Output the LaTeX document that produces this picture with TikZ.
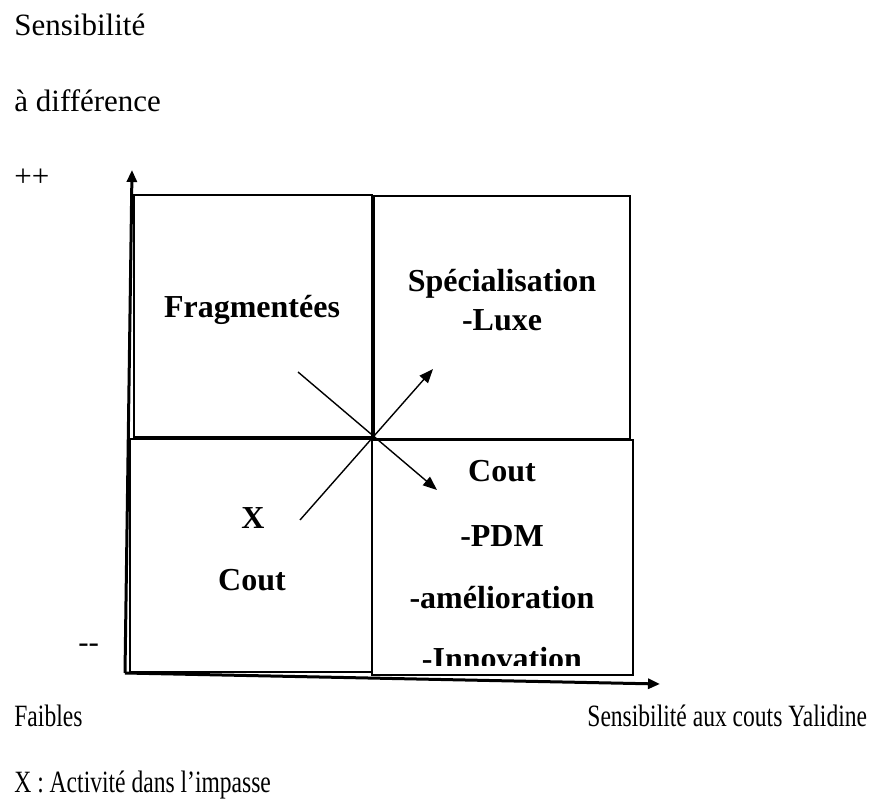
\documentclass[tikz,border=0pt]{standalone}
\usepackage{fontspec}
\setmainfont{Liberation Serif}
\newfontfamily\narrowserif[FakeStretch=0.76]{Liberation Serif}
\usetikzlibrary{arrows.meta, positioning}

\begin{document}
\begin{tikzpicture}[
        % 1 unit = 1 pixel of the reference (y goes down)
        x=0.5pt, y=-0.5pt,
        quad/.style={rectangle, draw, line width=1pt, inner sep=0pt},
        axis/.style={line width=1.5pt, -{Triangle[length=6pt, width=5pt]}},
        arrow/.style={line width=0.7pt, -{Triangle[length=7pt, width=5.5pt]}},
        toplabel/.style={font=\fontsize{15.5}{18}\selectfont, inner sep=0pt, anchor=base west},
        botlabel/.style={font=\narrowserif\fontsize{15.5}{18}\selectfont, inner sep=0pt, anchor=base west},
        cell/.style={font=\bfseries\fontsize{16}{19}\selectfont, inner sep=0pt, anchor=base}
    ]
    \useasboundingbox (0,0) rectangle (882,807);

    % Quadrants
    \node (frag) [quad, minimum width=119pt, minimum height=121pt] at (253,316) {};
    \node (spec) [quad, minimum width=128pt, minimum height=121.5pt] at (502,317.5) {};
    \node (impasse) [quad, minimum width=121pt, minimum height=116.5pt] at (251,555.5) {};
    \node (cost) [quad, minimum width=130.5pt, minimum height=117.5pt] at (502.5,557.5) {};

    % Axes
    \coordinate (origin) at (125,673);
    \coordinate (ytip) at (132,170);
    \coordinate (xtip) at (660,684);
    \draw [axis] (origin) -- (ytip);
    \draw [axis] (origin) -- (xtip);

    % Axis labels
    \node (ytitle) [toplabel] at (14,36) {Sensibilité};
    \node (ytitleb) [toplabel] at (14,112) {à différence};
    \node (yhigh) [toplabel] at (14,187) {++};
    \node (ylow) [toplabel] at (78,652) {-{}-};
    \node (xlow) [botlabel] at (14,726) {Faibles};
    \node (xtitle) [botlabel] at (587,726) {Sensibilité aux couts Yalidine};
    \node (legend) [botlabel] at (14,792) {X : Activité dans l’impasse};

    % Texts in the quadrants
    \node (fragtxt) [cell] at (252,317) {Fragmentées};
    \node (spectxt) [cell] at (502,292) {Spécialisation};
    \node (luxe) [cell] at (502,330) {-Luxe};
    \node (xmark) [cell] at (253,528) {X};
    \node (cout) [cell] at (252,590) {Cout};
    \node (cout2) [cell] at (502,481) {Cout};
    \node (pdm) [cell] at (502,546) {-PDM};
    \node (amel) [cell] at (502,608) {-amélioration};
    \begin{scope}
        \clip (372,440) rectangle (633,665);
        \node (innov) [cell] at (502,669) {-Innovation};
    \end{scope}

    % Moves across the centre
    \coordinate (xstart) at (300,520);
    \coordinate (nwstart) at (298,372);
    \coordinate (luxetip) at (433,369);
    \coordinate (couttip) at (437,490);
    \draw [arrow] (xstart) -- (luxetip);
    \draw [arrow] (nwstart) -- (couttip);

\end{tikzpicture}
\end{document}
